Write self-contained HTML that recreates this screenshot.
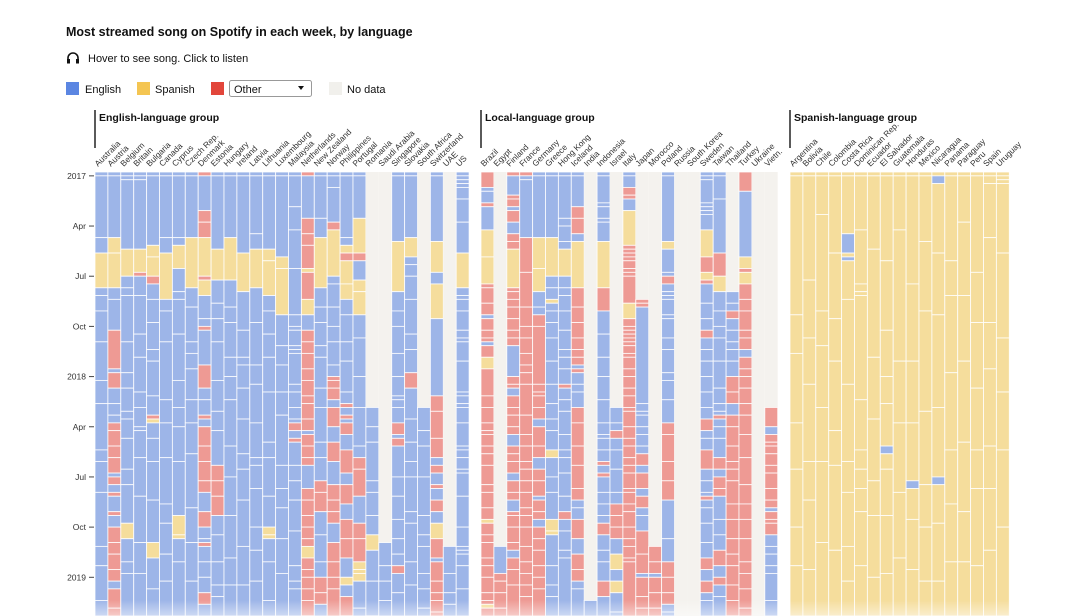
<!DOCTYPE html>
<html><head><meta charset="utf-8">
<style>
html,body{margin:0;padding:0;background:#fff;width:1080px;height:616px;overflow:hidden;font-family:"Liberation Sans",sans-serif;}
svg{display:block}
</style></head>
<body>
<svg id="chart" width="1080" height="616">
  <defs>
    <linearGradient id="fade" x1="0" y1="0" x2="0" y2="1"><stop offset="0" stop-color="#fff" stop-opacity="0"/><stop offset="1" stop-color="#fff" stop-opacity="0.5"/></linearGradient>
    <clipPath id="plotclip"><rect x="0" y="0" width="1080" height="616"/></clipPath>
  </defs>
  <text x="66" y="36" font-size="12.5" font-weight="bold" fill="#111">Most streamed song on Spotify in each week, by language</text>
  <g>
    <path d="M68 62 v-4 a5 5 0 0 1 10 0 v4" fill="none" stroke="#111" stroke-width="1.6"/>
    <rect x="67" y="59" width="3" height="4.5" fill="#111"/><rect x="76" y="59" width="3" height="4.5" fill="#111"/>
  </g>
  <text x="88" y="62" font-size="11" fill="#111">Hover to see song. Click to listen</text>
  <rect x="66" y="82" width="13" height="13" fill="#5b86e2"/>
  <text x="85" y="93" font-size="11" fill="#111">English</text>
  <rect x="137" y="82" width="13" height="13" fill="#f4c552"/>
  <text x="155" y="93" font-size="11" fill="#111">Spanish</text>
  <rect x="211" y="82" width="13" height="13" fill="#e2463b"/>
  <g>
    <rect x="229.5" y="80.5" width="82" height="16" rx="2" fill="#fff" stroke="#999"/>
    <text x="234" y="93" font-size="11" fill="#111">Other</text>
    <path d="M298 86 l6 0 l-3 4 z" fill="#111"/>
  </g>
  <rect x="329" y="82" width="13" height="13" fill="#f1f0ec"/>
  <text x="347" y="93" font-size="11" fill="#111">No data</text>
  <g id="cells" clip-path="url(#plotclip)"></g>
  <g id="labels"></g>
  <rect x="0" y="600" width="1080" height="16" fill="url(#fade)"/>
</svg>
<script>
const englishCountries=["Australia","Austria","Belgium","Britain","Bulgaria","Canada","Cyprus","Czech Rep.","Denmark","Estonia","Hungary","Ireland","Latvia","Lithuania","Luxembourg","Malaysia","Netherlands","New Zealand","Norway","Philippines","Portugal","Romania","Saudi Arabia","Singapore","Slovakia","South Africa","Switzerland","UAE","US"];
const englishRuns=[
"E1 E16 E4 S9 E2 E4 E8 E10 E6 E12 E3 E8 E14 E5 E9 E5",
"E1 E16 S4 S9 E3 E8 O10 E1 O4 E4 E3 E2 O2 O4 O3 O4 E1 O2 E2 O1 E4 O1 E3 O4 O3 O4 O3 E2 O5 O4 O3 E3 O3",
"E1 E1 E18 S7 E3 E2 E12 E8 E4 E6 E2 E5 E8 E4 E10 S4 E6 E3 E12",
"E1 E1 E18 S6 O1 E5 E10 E6 E9 E4 E5 E1 E7 E10 E12 E8 E14",
"E1 E18 S3 S5 O2 E4 E6 E7 E3 E9 E5 O1 S1 E4 E6 E10 E11 S4 E8 E9",
"E1 E16 E4 S12 E3 E8 E15 E6 E9 E12 E5 E8 E7 E11",
"E1 E16 E2 S6 E6 E2 E9 E12 E7 E5 E9 E14 S5 S1 E6 E12",
"E1 E16 S13 E5 E9 E3 E4 E8 E6 E8 E14 E9 E10 E11",
"O1 E9 O3 O4 S10 O1 S4 E6 E2 O1 E9 O6 E3 E4 O1 E2 O5 O4 O5 O3 E5 O4 E3 E1 O1 E4 E4 E4 O3 E4 E6",
"E1 E19 S8 E6 E4 E6 E10 E8 E5 E9 O4 O4 O5 E5 E7 E6 E3 E4",
"E1 E16 S11 E7 E4 E9 E5 E6 E12 E8 E10 E11 E7 E9",
"E1 E20 S10 E10 E7 E2 E6 E8 E9 E4 E8 E12 E10 E9",
"E1 E15 E4 S10 E9 E11 E5 E10 E9 E2 E6 E10 E6 E8 E10",
"E1 E19 S3 S9 E4 E6 E6 E9 E13 E4 E10 E8 S2 S1 E6 E10 E12",
"E1 E21 S3 S12 E8 E5 E7 E6 E13 E6 E5 E8 E9 E12",
"E1 E8 E6 E10 E12 E3 E1 E4 E1 E1 E8 E2 E4 E3 E1 O2 E2 O1 E6 E4 E5 E8 E9 E4 E2 E3",
"O1 E11 O4 O3 O6 S1 O7 S4 E4 O3 O3 O4 O3 O4 O2 O4 O3 E1 O3 O3 O2 E6 O3 O4 O3 O3 O2 S3 O3 O2 O3 O3 O4 O3 O2 O3 O3",
"E1 E11 E5 S13 E5 E4 E6 E3 E8 E5 E9 E4 E6 O3 O5 E6 E7 E4 O4 O3 E5 O2 E3",
"E1 E3 E9 O2 S12 E2 E6 E5 E4 E6 E3 O1 O2 O3 E2 O5 E4 O5 E6 O4 O3 O3 E5 O5 O4 O3 O4",
"E1 E16 E2 S2 O2 S6 S4 E4 E7 E5 E8 E3 O1 E2 O1 E1 O3 E4 O6 E3 O5 E4 O5 O5 E5 S2 E3 O5 O5",
"E1 E11 S9 O2 E5 S3 S6 E6 E10 E8 E10 E3 O3 O7 E7 O4 O6 S2 S1 S2 E7 E4 O3 E3 E5",
"N61 E5 E4 E10 E3 E6 E5 S4 E8 E9 E6 E5",
"N96 E6 E4 E5 E8",
"E1 E17 S13 E5 E4 E7 E6 E5 E1 E2 E4 O3 E1 O2 E8 E5 E6 E5 E4 E3 O2 E5 E8",
"E1 E16 S5 E2 E3 E6 E9 E4 E6 O4 E8 E6 E5 E4 E9 E3 E10 E6 E9",
"N61 E6 E4 E8 E10 E5 E3 E7 E4 E5 E6",
"E1 E17 S8 E3 S9 E20 O4 O7 O5 E2 O2 E3 O1 E3 O3 E3 S4 O5 E1 O5 O3 O2 O3 O3 O2 O3",
"N97 E7 E5 E3 E6",
"E1 E1 E1 E1 E3 E6 E8 S9 E2 E1 E3 E5 E2 E1 E5 E8 E1 E2 E1 E4 E6 E1 E2 E3 E1 E6 E8 E5 E1 E1 E3 E6 E4"];
const localCountries=["Brazil","Egypt","Finland","France","Germany","Greece","Hong Kong","Iceland","India","Indonesia","Israel","Italy","Japan","Morocco","Poland","Russia","South Korea","Sweden","Taiwan","Thailand","Turkey","Ukraine","Vietn."];
const localRuns=[
"O4 E1 E3 O1 E6 S7 S7 O1 O4 O3 E1 O3 O2 O1 E1 O3 S3 O7 O3 O4 O2 O1 O3 O2 O3 O5 O2 O4 O3 S1 O3 O2 O4 O2 O3 O4 O2 O1 S1 O3 O4 O2 O3 O3",
"N97 E7 O2 O3 O4 O3",
"O1 E5 O1 O2 E1 O3 E3 O2 O2 S10 O1 O2 O2 O3 O3 O2 O2 E8 O2 O1 E2 O3 O2 O3 O2 E3 O2 O2 O3 E2 O3 O2 E3 O1 O3 O4 O2 E2 O3 O4 O3",
"O1 E1 E15 O9 O9 O5 O3 O4 O3 O2 O3 O8 O5 O3 O4 O2 O3 O3 O4 O2 O3 O5 O4 O3 O3 O3 O3",
"E1 E16 S8 S6 E4 E2 O3 O15 O2 O1 O3 O3 E2 O5 O3 E3 O3 O4 E1 O3 O2 E2 O3 O3 O4 O3 O3 O2",
"E1 E16 S10 E3 E3 S1 E2 E3 E4 E6 E6 E5 E4 E3 E5 S2 E5 E4 E7 S3 S1 E8 E5 E3 E2",
"E1 E11 E2 E4 E2 S7 E3 E2 E4 E5 E5 E2 E3 E4 O1 E3 E3 E6 E4 E2 E4 E6 E4 O2 E3 E5 E2 E5",
"E1 E8 O3 O4 E2 S12 O5 O4 O4 O3 O2 O2 E1 O1 E3 E2 E4 O4 O6 O5 O6 O3 E2 E3 O5 E4 O4 O3 E2 E3",
"N111 E5",
"E1 E7 E1 E3 E1 E5 S12 O6 E6 E6 E5 E6 E6 E3 E1 E3 E3 O1 E2 O1 E4 E3 E3 E2 O3 E4 E3 E5 O4 E6",
"N61 E4 E2 O2 E3 E5 E6 E3 O3 O3 O3 E4 S4 E3 S3 E5 E5",
"E1 E3 O2 O1 E3 S9 O1 O1 O1 O1 O2 O1 O1 O7 S4 O2 O1 O1 O1 O1 O1 O2 O1 O3 O2 O3 O2 O3 O1 O4 O3 O2 O3 O2 O2 O4 O1 O3 O2 O4 O3 O2 O3 O1 O3",
"N33 O1 O1 E25 E2 E1 E3 E2 E3 E2 O3 E2 O4 E2 O3 E2 E4 O6 O5 E1 O5 O3 O3 O4",
"N97 O4 O3 E1 O4 O4 O3",
"E1 E17 S2 E6 E1 O2 E2 E1 E1 E4 E1 E5 E3 E6 E2 E5 E6 O3 O7 O5 O5 E10 E6 O4 O4 O3 E2 E3 E4",
"N116",
"N116",
"E1 E1 E6 E1 E1 E1 E4 S7 O4 S2 O1 E5 E4 E3 O2 E3 E3 E4 E4 E4 E3 O3 E2 E3 O5 E3 E3 E1 O1 E2 E4 E5 E4 O3 E3 O3 E2 E3",
"E1 E6 E14 O6 S4 E5 E4 E3 E6 E7 E4 E2 E1 O1 E2 E3 E5 O3 E2 O3 O2 E6 E4 E4 O4 E3 O2 E3 E2",
"N31 E3 E2 O2 E3 E3 E2 E3 E4 O4 O3 E3 O3 O5 O4 O2 O3 O6 O4 O5 O4 O3 O5 O4 O4 O3 O4",
"O5 E17 S3 O1 S3 O4 O3 O5 O2 O3 E2 O3 O2 O3 O4 O3 O5 O6 O7 O5 O4 O5 O6 O3 O4 O5 O4",
"N116",
"N61 O5 E2 O2 O1 O2 O3 O2 O4 O3 O2 E1 O2 O1 O3 E3 E2 E3 E2 E7 E6"];
const spanishCountries=["Argentina","Bolivia","Chile","Colombia","Costa Rica","Dominican Rep.","Ecuador","El Salvador","Guatemala","Honduras","Mexico","Nicaragua","Panama","Paraguay","Peru","Spain","Uruguay"];
const spanishRuns=[
"S1 S36 S10 S18 S12 S15 S10 S14",
"S1 S27 S15 S12 S20 S10 S18 S13",
"S1 S10 S25 S9 S16 S14 S21 S20",
"S1 S20 S17 S11 S18 S9 S22 S18",
"S1 S15 E5 S1 E1 S10 S22 S20 S8 S14 S9 S10",
"S1 S14 S14 S2 S1 S27 S13 S5 S5 S6 S14 S14",
"S1 S19 S28 S16 S16 S9 S16 S11",
"S1 S22 S18 S12 S7 S11 E2 S4 S12 S15 S12",
"S1 S14 S34 S16 S18 S17 S16",
"S1 S28 S20 S16 S15 E2 S8 S13 S13",
"S1 S17 S18 S26 S19 S11 S14 S10",
"S1 E2 S18 S16 S24 S18 E2 S10 S15 S12",
"S1 S22 S9 S20 S20 S14 S15 S15",
"S1 S12 S19 S17 S21 S18 S13 S15",
"S1 S25 S13 S17 S16 S10 S20 S14",
"S1 S2 S14 S22 S12 S20 S11 S16 S18",
"S1 S1 S1 S18 S22 S14 S15 S20 S24"];
const groupNames=["English-language group","Local-language group","Spanish-language group"];
const tickLabels=["2017","Apr","Jul","Oct","2018","Apr","Jul","Oct","2019"];
const tickWeeks=[1,14,27,40,53,66,79,92,105];
const totalWeeks=116;

const NS="http://www.w3.org/2000/svg";
const TOP=172, WEEK=3.86, COLW=12.9;
const groupX=[95,481,790];
const COLORS={E:"#9db5e8",S:"#f5dd9c",O:"#ee9a94",N:"#f4f2ee"};
const yScale=w=>TOP+w*WEEK;
const cells=document.getElementById("cells");
const labels=document.getElementById("labels");
function mk(tag,attrs,parent){const e=document.createElementNS(NS,tag);for(const k in attrs)e.setAttribute(k,attrs[k]);parent.appendChild(e);return e;}

const groups=[[englishCountries,englishRuns],[localCountries,localRuns],[spanishCountries,spanishRuns]];
groups.forEach(([names,runs],gi)=>{
  const gx=groupX[gi];
  const ln=mk("line",{x1:gx,x2:gx,y1:110,y2:148,stroke:"#222","stroke-width":1.5},labels);
  
  
  const gt=mk("text",{x:gx+4,y:121,"font-size":10.5,"font-weight":"bold",fill:"#111"},labels);
  gt.textContent=groupNames[gi];
  
  
  names.forEach((name,ci)=>{
    const x=gx+ci*COLW;
    const lt=mk("text",{x:0,y:0,"font-size":8.3,fill:"#333",transform:`translate(${x+3},167) rotate(-45)`},labels);
    lt.textContent=name;
    
    
    const toks=runs[ci].split(" ").map(t=>[t[0],parseInt(t.slice(1))]);
    let sum=toks.reduce((a,t)=>a+t[1],0);
    if(sum<totalWeeks) toks[toks.length-1][1]+=totalWeeks-sum;
    let w=0;
    toks.forEach(([c,n])=>{
      if(w>=totalWeeks) return;
      const n2=Math.min(n,totalWeeks-w);
      const y0=yScale(w), y1=Math.min(yScale(w+n2),616);
      const r=mk("rect",{x:x,y:y0,width:COLW,height:Math.max(0,y1-y0),fill:COLORS[c]},cells);
      if(c!=="N"){r.setAttribute("stroke","#fff");r.setAttribute("stroke-width","0.9");r.setAttribute("stroke-opacity","0.85");}
      
      
      w+=n2;
    });
  });
});
tickLabels.forEach((t,i)=>{
  const y=yScale(tickWeeks[i]);
  const tl=mk("text",{x:86,y:y+3,"font-size":8.5,fill:"#333","text-anchor":"end"},labels);
  tl.textContent=t;
  
  
  const tk=mk("line",{x1:89,x2:94,y1:y,y2:y,stroke:"#444","stroke-width":1},labels);
  
  
});
</script>
</body></html>
